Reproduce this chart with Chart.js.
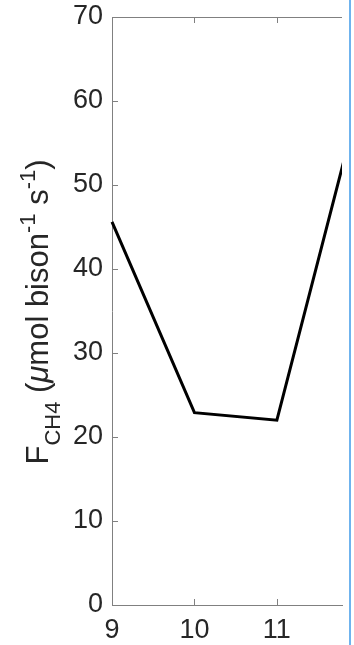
<!DOCTYPE html>
<html lang="en">
<head>
    <meta charset="UTF-8">
    <title>F CH4 flux</title>
    <script src="https://cdn.jsdelivr.net/npm/chart.js"></script>
    <style>
        html, body { margin: 0; padding: 0; background: #fff; }
        #wrap { position: relative; width: 354px; height: 645px; overflow: hidden; }
        #edge { position: absolute; left: 349px; top: 0; width: 2px; height: 645px; background: #6fb3ee; }
    </style>
</head>
<body>
    <div id="wrap">
        <canvas id="fluxChart" width="354" height="645"></canvas>
        <div id="edge"></div>
    </div>
    <script>
        // values
        const hours = [9, 10, 11, 12];
        const fch4 = [45.6, 22.9, 22.0, 60.0];
        const yTicks = [0, 10, 20, 30, 40, 50, 60, 70];
        const xTicks = [9, 10, 11];

        const axisGray = '#808080';
        const tickFont = { family: '"Liberation Sans", Arial, sans-serif', size: 27 };

        // inward ticks, top box line and the y label with sub/superscripts
        const matlabAxes = {
            id: 'matlabAxes',
            afterDraw(chart) {
                const ctx = chart.ctx;
                const a = chart.chartArea;
                const xs = chart.scales.x, ys = chart.scales.y;
                ctx.save();
                ctx.strokeStyle = axisGray;
                ctx.lineWidth = 1;
                ctx.beginPath();
                ctx.moveTo(a.left, Math.round(a.top) + 0.5);
                ctx.lineTo(a.right, Math.round(a.top) + 0.5);
                yTicks.forEach(v => {
                    const py = Math.round(ys.getPixelForValue(v)) + 0.5;
                    ctx.moveTo(a.left, py);
                    ctx.lineTo(a.left + 6, py);
                });
                xTicks.forEach(v => {
                    const px = Math.round(xs.getPixelForValue(v)) + 0.5;
                    ctx.moveTo(px, a.bottom);
                    ctx.lineTo(px, a.bottom - 6);
                    ctx.moveTo(px, a.top);
                    ctx.lineTo(px, a.top + 6);
                });
                ctx.stroke();

                // y axis title
                const fam = '"Liberation Sans", Arial, sans-serif';
                const main = '31px ' + fam, small = '22px ' + fam;
                const parts = [
                    { t: 'F', f: main, dy: 0 },
                    { t: 'CH4', f: small, dy: 12 },
                    { t: ' (', f: main, dy: 0 },
                    { t: 'μ', f: 'italic 31px ' + fam, dy: 0 },
                    { t: 'mol bison', f: main, dy: 0 },
                    { t: '-1', f: small, dy: -13 },
                    { t: ' s', f: main, dy: 0 },
                    { t: '-1', f: small, dy: -13 },
                    { t: ')', f: main, dy: 0 }
                ];
                let total = 0;
                parts.forEach(p => { ctx.font = p.f; p.w = ctx.measureText(p.t).width; total += p.w; });
                const centerY = 312;
                ctx.translate(48, centerY + total / 2);
                ctx.rotate(-Math.PI / 2);
                ctx.fillStyle = '#262626';
                ctx.textBaseline = 'alphabetic';
                ctx.textAlign = 'left';
                let x = 0;
                parts.forEach(p => {
                    ctx.font = p.f;
                    ctx.fillText(p.t, x, p.dy);
                    x += p.w;
                });
                ctx.restore();
            }
        };

        new Chart(document.getElementById('fluxChart'), {
            type: 'line',
            data: {
                datasets: [{
                    label: 'FCH4',
                    data: hours.map((h, i) => ({ x: h, y: fch4[i] })),
                    borderColor: '#000',
                    borderWidth: 3,
                    pointRadius: 0,
                    tension: 0,
                    fill: false,
                    clip: { left: 3, top: 3, right: 0, bottom: 3 }
                }]
            },
            options: {
                responsive: false,
                animation: false,
                devicePixelRatio: 1,
                layout: { padding: { top: 17, right: 12, left: 0, bottom: 0 } },
                plugins: { legend: { display: false }, tooltip: { enabled: false } },
                scales: {
                    x: {
                        type: 'linear',
                        min: 9,
                        max: 11.79,
                        afterBuildTicks: s => { s.ticks = xTicks.map(v => ({ value: v })); },
                        afterFit: s => { s.height = 40; s.paddingLeft = 0; s.paddingRight = 0; },
                        grid: { display: false, drawTicks: false },
                        border: { display: true, color: axisGray, width: 1 },
                        ticks: { color: '#262626', font: tickFont, padding: 9, maxRotation: 0 }
                    },
                    y: {
                        min: 0,
                        max: 70,
                        afterBuildTicks: s => { s.ticks = yTicks.map(v => ({ value: v })); },
                        afterFit: s => { s.width = 112; s.paddingTop = 0; s.paddingBottom = 0; },
                        grid: { display: false, drawTicks: false },
                        border: { display: true, color: axisGray, width: 1 },
                        ticks: { color: '#262626', font: tickFont, padding: 9 }
                    }
                }
            },
            plugins: [matlabAxes]
        });
    </script>
</body>
</html>
